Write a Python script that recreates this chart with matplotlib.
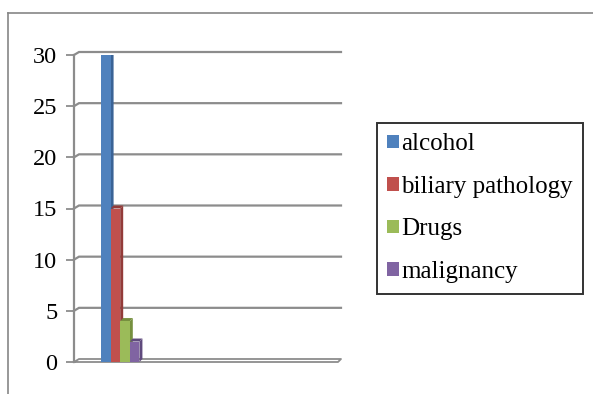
import matplotlib.pyplot as plt
from matplotlib.lines import Line2D
from matplotlib.patches import Polygon, Patch

# data
causes = ["alcohol", "biliary pathology", "Drugs", "malignancy"]
counts = [30, 15, 4, 2]
colors = ["#4F81BD", "#C0504D", "#9BBB59", "#8064A2"]
dark = ["#3A6396", "#933B39", "#76903F", "#5F4A7D"]
yticks = [0, 5, 10, 15, 20, 25, 30]

plt.rcParams["font.family"] = ["Liberation Serif", "DejaVu Serif"]

W, H = 593, 394
fig = plt.figure(figsize=(W / 100, H / 100), dpi=100)

# outer chart frame (cut by the image edges)
fig.add_artist(Line2D([8 / W, 1], [1 - 13 / H, 1 - 13 / H], color="#868686", lw=1.2))
fig.add_artist(Line2D([8 / W, 8 / W], [0, 1 - 13 / H], color="#868686", lw=1.2))

left, right, y0, y30 = 74, 341, 362, 55
ax = fig.add_axes([left / W, 1 - y0 / H, (right - left) / W, (y0 - y30) / H])
ax.set_xlim(0, 1)
ax.set_ylim(0, 30)
for s in ["top", "right", "bottom"]:
    ax.spines[s].set_visible(False)
ax.spines["left"].set_color("#8c8c8c")
ax.spines["left"].set_linewidth(1.6)
ax.set_xticks([])
ax.set_yticks(yticks)
ax.tick_params(axis="y", length=6, width=1.3, color="#8c8c8c",
               labelsize=17.5, pad=6)
ax.patch.set_alpha(0)

px_y = 30 / (y0 - y30)          # data units per pixel, vertical
px_x = 1 / (right - left)       # data units per pixel, horizontal
dx, dy = 5 * px_x, 3 * px_y

# back wall gridlines with small perspective hook
for v in yticks[1:]:
    ax.plot([0, dx, 1], [v, v + dy, v + dy], color="#8c8c8c", lw=1.6,
            solid_joinstyle="miter", clip_on=False, zorder=1)
# floor
ax.plot([0, dx, 1, 1 - dx * 0.6, 0], [0, dy, dy, 0, 0], color="#8c8c8c",
        lw=1.3, clip_on=False, zorder=1)

# bars with a thin 3D side and top
bw = 0.036
x0 = 0.101
for i, v in enumerate(counts):
    xl = x0 + i * bw
    xr = xl + bw
    side = Polygon([(xr, 0), (xr + 3 * px_x, dy), (xr + 3 * px_x, v + dy), (xr, v)],
                   closed=True, facecolor=dark[i], edgecolor="none", zorder=2 + i)
    top = Polygon([(xl, v), (xl + 3 * px_x, v + dy), (xr + 3 * px_x, v + dy), (xr, v)],
                  closed=True, facecolor=dark[i], edgecolor="none", zorder=2 + i)
    ax.add_patch(side)
    ax.add_patch(top)
    ax.bar(xl, v, width=bw, align="edge", color=colors[i], edgecolor="none",
           zorder=2 + i)

handles = [Patch(facecolor=c, edgecolor="none") for c in colors]
leg = fig.legend(handles, causes, loc="upper left",
                 bbox_to_anchor=(377 / W, 1 - 123 / H), fontsize=18,
                 frameon=True, fancybox=False, handlelength=0.45,
                 handleheight=0.45, handletextpad=0.1, labelspacing=0.82,
                 borderpad=0.42, borderaxespad=0)
leg.get_frame().set_edgecolor("black")
leg.get_frame().set_linewidth(1.4)

fig.savefig("out.png", dpi=100)
